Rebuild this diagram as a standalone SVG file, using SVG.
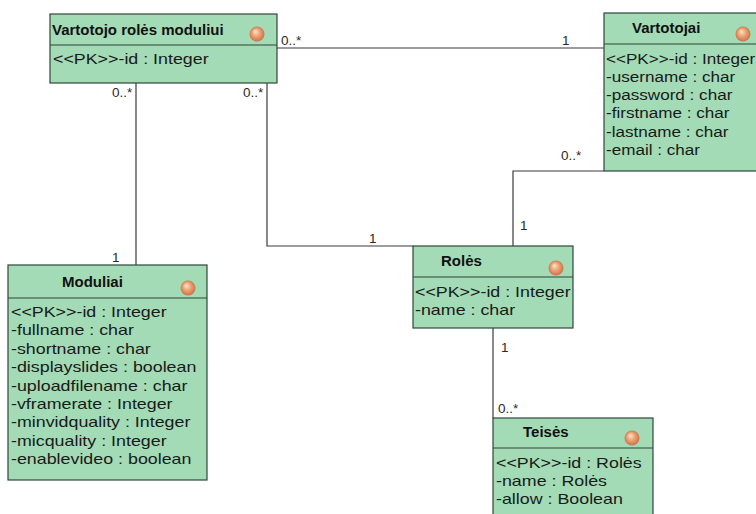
<svg xmlns="http://www.w3.org/2000/svg" width="756" height="514" viewBox="0 0 756 514">
  <style>
    .box { fill: #a2dbb5; stroke: #2e463a; stroke-width: 1.2; }
    .sep { stroke: #2e463a; stroke-width: 1.2; }
    .title { font-family: "Liberation Sans", Arial, sans-serif; font-size: 15px; font-weight: bold; fill: #111; }
    .attr { font-family: "Liberation Sans", Arial, sans-serif; font-size: 14.5px; fill: #1a1a1a; }
    .mult { font-family: "Liberation Sans", Arial, sans-serif; font-size: 13.5px; fill: #2a2a2a; }
    .conn { fill: none; stroke: #3a3a3a; stroke-width: 1.2; }
    .ico { fill: url(#ball); }
  </style>
  <defs>
    <radialGradient id="ball" cx="50%" cy="50%" r="55%" fx="38%" fy="32%">
      <stop offset="0%" stop-color="#fbe8cf"/>
      <stop offset="45%" stop-color="#eea677"/>
      <stop offset="100%" stop-color="#c76a45"/>
    </radialGradient>
  </defs>
  <rect width="756" height="514" fill="#ffffff"/>

  <!-- associations -->
  <g id="connectors">
    <polyline class="conn" points="277,48 604,48"/>
    <polyline class="conn" points="136,83 136,265"/>
    <polyline class="conn" points="267,83 267,246 413,246"/>
    <polyline class="conn" points="604,171 513,171 513,246"/>
    <polyline class="conn" points="493,328 493,418"/>
    <text class="mult" x="281" y="45">0..*</text>
    <text class="mult" x="562" y="45">1</text>
    <text class="mult" x="112" y="97">0..*</text>
    <text class="mult" x="243" y="97">0..*</text>
    <text class="mult" x="112" y="262">1</text>
    <text class="mult" x="369" y="243">1</text>
    <text class="mult" x="561" y="160">0..*</text>
    <text class="mult" x="520" y="230">1</text>
    <text class="mult" x="501" y="352">1</text>
    <text class="mult" x="498" y="413">0..*</text>
  </g>

  <!-- attribute lists use a slightly widened face -->
  <g id="vartotojo-roles-moduliui">
    <rect class="box" x="50" y="14" width="227" height="69"/>
    <line class="sep" x1="50" y1="45" x2="277" y2="45"/>
    <text class="title" x="52" y="35">Vartotojo rolės moduliui</text>
    <circle class="ico" cx="257" cy="34" r="7.5"/>
    <g transform="translate(53 0) scale(1.23 1)">
      <text class="attr" x="0" y="64">&lt;&lt;PK&gt;&gt;-id : Integer</text>
    </g>
  </g>

  <g id="vartotojai">
    <rect class="box" x="604" y="13" width="170" height="158"/>
    <line class="sep" x1="604" y1="44" x2="774" y2="44"/>
    <text class="title" x="632" y="33">Vartotojai</text>
    <circle class="ico" cx="743" cy="34" r="7.5"/>
    <g transform="translate(606 0) scale(1.18 1)">
      <text class="attr" x="0" y="64">&lt;&lt;PK&gt;&gt;-id : Integer</text>
      <text class="attr" x="0" y="82">-username : char</text>
      <text class="attr" x="0" y="100">-password : char</text>
      <text class="attr" x="0" y="118">-firstname : char</text>
      <text class="attr" x="0" y="137">-lastname : char</text>
      <text class="attr" x="0" y="155">-email : char</text>
    </g>
  </g>

  <g id="moduliai">
    <rect class="box" x="8" y="265" width="199" height="215"/>
    <line class="sep" x1="8" y1="298" x2="207" y2="298"/>
    <text class="title" x="62" y="287">Moduliai</text>
    <circle class="ico" cx="188" cy="288" r="7.5"/>
    <g transform="translate(11 0) scale(1.23 1)">
      <text class="attr" x="0" y="317">&lt;&lt;PK&gt;&gt;-id : Integer</text>
      <text class="attr" x="0" y="335">-fullname : char</text>
      <text class="attr" x="0" y="354">-shortname : char</text>
      <text class="attr" x="0" y="372">-displayslides : boolean</text>
      <text class="attr" x="0" y="391">-uploadfilename : char</text>
      <text class="attr" x="0" y="409">-vframerate : Integer</text>
      <text class="attr" x="0" y="427">-minvidquality : Integer</text>
      <text class="attr" x="0" y="446">-micquality : Integer</text>
      <text class="attr" x="0" y="464">-enablevideo : boolean</text>
    </g>
  </g>

  <g id="roles">
    <rect class="box" x="413" y="246" width="160" height="82"/>
    <line class="sep" x1="413" y1="277" x2="573" y2="277"/>
    <text class="title" x="441" y="266">Rolės</text>
    <circle class="ico" cx="556" cy="268" r="7.5"/>
    <g transform="translate(415 0) scale(1.23 1)">
      <text class="attr" x="0" y="297">&lt;&lt;PK&gt;&gt;-id : Integer</text>
      <text class="attr" x="0" y="315">-name : char</text>
    </g>
  </g>

  <g id="teises">
    <rect class="box" x="493" y="418" width="160" height="110"/>
    <line class="sep" x1="493" y1="448" x2="653" y2="448"/>
    <text class="title" x="523" y="437">Teisės</text>
    <circle class="ico" cx="632" cy="438" r="7.5"/>
    <g transform="translate(496 0) scale(1.23 1)">
      <text class="attr" x="0" y="468">&lt;&lt;PK&gt;&gt;-id : Rolės</text>
      <text class="attr" x="0" y="486">-name : Rolės</text>
      <text class="attr" x="0" y="504">-allow : Boolean</text>
    </g>
  </g>
</svg>
